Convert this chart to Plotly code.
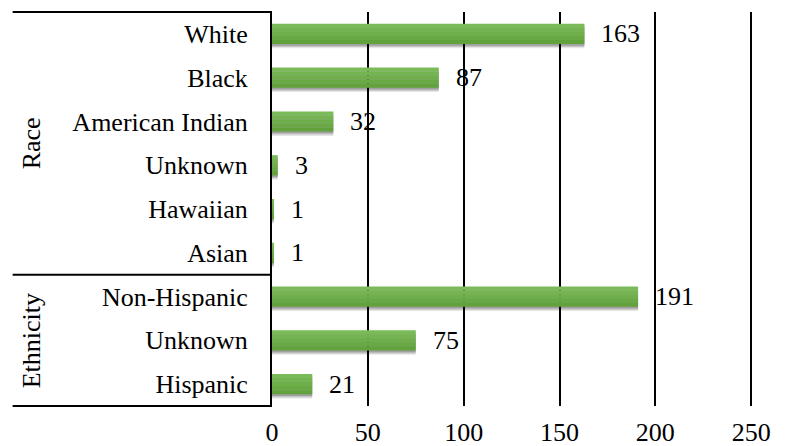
import plotly.graph_objects as go

# ---- data ----
groups = ["Race", "Race", "Race", "Race", "Race", "Race",
          "Ethnicity", "Ethnicity", "Ethnicity"]
categories = ["White", "Black", "American Indian", "Unknown", "Hawaiian", "Asian",
              "Non-Hispanic", "Unknown", "Hispanic"]
values = [163, 87, 32, 3, 1, 1, 191, 75, 21]
x_ticks = [0, 50, 100, 150, 200, 250]
group_names = ["Race", "Ethnicity"]

FONT = "Liberation Serif, Times New Roman, serif"
FS = 26
bar_w = 0.46
pos = list(range(len(categories)))

fig = go.Figure()

# soft shadow below bars
for dy, alpha in [(0.10, 0.10), (0.07, 0.14), (0.04, 0.18)]:
    fig.add_trace(go.Bar(
        x=values, y=pos, orientation="h",
        offset=-bar_w / 2 + dy, width=bar_w,
        marker=dict(color=f"rgba(0,0,0,{alpha})", line=dict(width=0)),
        hoverinfo="skip", showlegend=False))

# green gradient bars (strips from light to dark)
strip_colors = ["#7bba59", "#74b552", "#6eaf4b", "#68a944", "#61a23d"]
n = len(strip_colors)
for i, c in enumerate(strip_colors):
    fig.add_trace(go.Bar(
        x=values, y=pos, orientation="h",
        offset=-bar_w / 2 + i * bar_w / n, width=bar_w / n + 0.002,
        marker=dict(color=c, line=dict(width=0)),
        showlegend=False))

# value labels
for p, v in zip(pos, values):
    fig.add_annotation(x=v, y=p, text=str(v), showarrow=False,
                       xanchor="left", yanchor="middle", xshift=15,
                       font=dict(family=FONT, size=FS, color="black"))

n_rows = len(categories)
n_race = groups.count("Race")
sep = (n_rows - n_race) / n_rows
left = -0.537

# group boundary lines in the label area
for yy in [1.0, sep, 0.0]:
    fig.add_shape(type="line", xref="paper", yref="paper",
                  x0=left, x1=0, y0=yy, y1=yy,
                  line=dict(color="black", width=2))

# group labels
for name, yc in [(group_names[0], (1 + sep) / 2), (group_names[1], sep / 2)]:
    fig.add_annotation(xref="paper", yref="paper", x=-0.499, y=yc,
                       xanchor="center", yanchor="middle",
                       text=name, textangle=-90, showarrow=False,
                       font=dict(family=FONT, size=FS, color="black"))

# page body has an 8px margin, so the figure is sized/offset to compensate
fig.update_layout(
    width=777, height=438,
    margin=dict(l=264, r=30, t=4, b=40, autoexpand=False),
    paper_bgcolor="white", plot_bgcolor="white",
    barmode="overlay",
    font=dict(family=FONT, size=FS, color="black"),
    xaxis=dict(range=[0, 252], tickvals=x_ticks, ticktext=[str(t) for t in x_ticks],
               showgrid=True, gridcolor="black", gridwidth=1.5,
               zeroline=False, showline=False, ticks="", automargin=False,
               ticklabelstandoff=8,
               tickfont=dict(family=FONT, size=FS, color="black")),
    yaxis=dict(range=[n_rows - 0.5, -0.5], tickvals=pos, ticktext=categories,
               showgrid=False, zeroline=False, automargin=False,
               showline=True, linecolor="black", linewidth=2,
               ticks="", ticklabelstandoff=17,
               tickfont=dict(family=FONT, size=FS, color="black")),
)

fig.write_html("out.html")
